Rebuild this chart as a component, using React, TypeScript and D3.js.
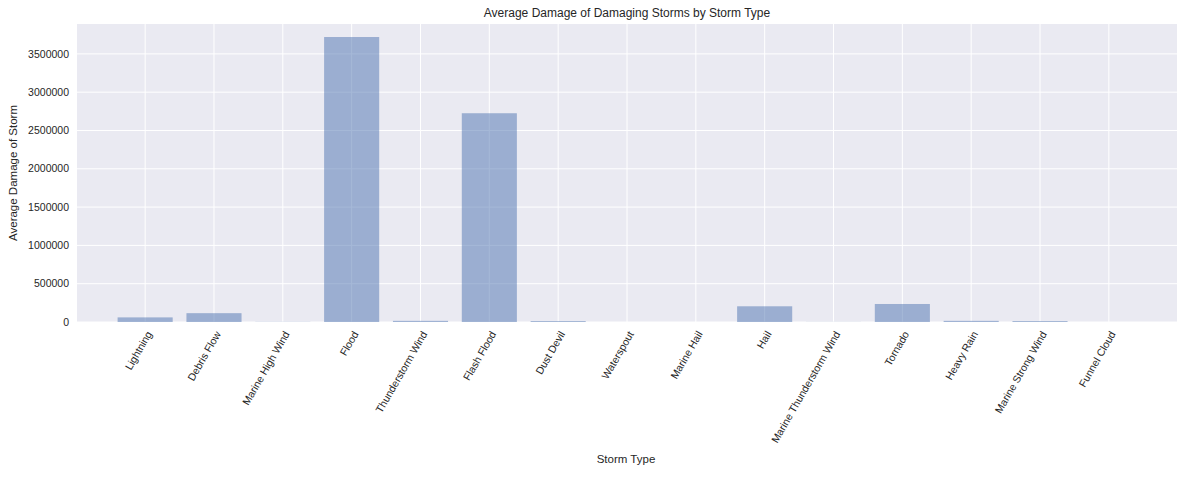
import React, { useRef, useEffect } from 'react';
import * as d3 from 'd3';

const stormTypes = ['Lightning', 'Debris Flow', 'Marine High Wind', 'Flood', 'Thunderstorm Wind', 'Flash Flood', 'Dust Devil', 'Waterspout', 'Marine Hail', 'Hail', 'Marine Thunderstorm Wind', 'Tornado', 'Heavy Rain', 'Marine Strong Wind', 'Funnel Cloud'];
const avgDamage = [60000, 115000, 2000, 3720000, 15000, 2725000, 12000, 0, 0, 205000, 1000, 235000, 15000, 12000, 0];
const yTicks = [0, 500000, 1000000, 1500000, 2000000, 2500000, 3000000, 3500000];

const App = () => {
  const svgRef = useRef(null);

  useEffect(() => {
    const width = 1191;
    const height = 477;
    const left = 77, right = 1177, top = 24, bottom = 322;

    const svg = d3.select(svgRef.current);
    svg.selectAll('*').remove();
    svg.attr('width', width).attr('height', height)
      .style('font-family', '"Liberation Sans", Arial, sans-serif');

    const x = d3.scaleLinear().domain([-0.99, stormTypes.length - 0.01]).range([left, right]);
    const y = d3.scaleLinear().domain([0, 3890000]).range([bottom, top]);

    svg.append('rect').attr('x', left).attr('y', top)
      .attr('width', right - left).attr('height', bottom - top).attr('fill', '#eaeaf2');

    // grid
    svg.selectAll('.hg').data(yTicks).enter().append('line')
      .attr('x1', left).attr('x2', right)
      .attr('y1', d => y(d)).attr('y2', d => y(d))
      .attr('stroke', '#fff').attr('stroke-width', 1);
    svg.selectAll('.vg').data(stormTypes).enter().append('line')
      .attr('x1', (d, i) => x(i)).attr('x2', (d, i) => x(i))
      .attr('y1', top).attr('y2', bottom)
      .attr('stroke', '#fff').attr('stroke-width', 1);

    // bars
    svg.selectAll('.bar').data(avgDamage).enter().append('rect')
      .attr('x', (d, i) => x(i - 0.4))
      .attr('width', x(0.8) - x(0))
      .attr('y', d => y(d))
      .attr('height', d => bottom - y(d))
      .attr('fill', '#4c72b0').attr('fill-opacity', 0.5);

    // y tick labels
    svg.selectAll('.yl').data(yTicks).enter().append('text')
      .attr('x', left - 8).attr('y', d => y(d)).attr('dy', '0.35em')
      .attr('text-anchor', 'end').attr('font-size', 10.5).attr('fill', '#262626')
      .text(d => d);

    // x tick labels
    svg.selectAll('.xl').data(stormTypes).enter().append('text')
      .attr('transform', (d, i) => `translate(${x(i) + 4},${bottom + 10}) rotate(-60)`)
      .attr('text-anchor', 'end').attr('dy', '0.35em')
      .attr('font-size', 10.5).attr('fill', '#262626')
      .text(d => d);

    svg.append('text').attr('x', (left + right) / 2).attr('y', 17)
      .attr('text-anchor', 'middle').attr('font-size', 12).attr('fill', '#262626')
      .text('Average Damage of Damaging Storms by Storm Type');

    svg.append('text').attr('x', 626).attr('y', 463)
      .attr('text-anchor', 'middle').attr('font-size', 11.5).attr('fill', '#262626')
      .text('Storm Type');

    svg.append('text')
      .attr('transform', `translate(17,${(top + bottom) / 2}) rotate(-90)`)
      .attr('text-anchor', 'middle').attr('font-size', 11.5).attr('fill', '#262626')
      .text('Average Damage of Storm');
  }, []);

  return <svg ref={svgRef} style={{ position: 'absolute', left: 0, top: 0 }}></svg>;
};

export default App;
